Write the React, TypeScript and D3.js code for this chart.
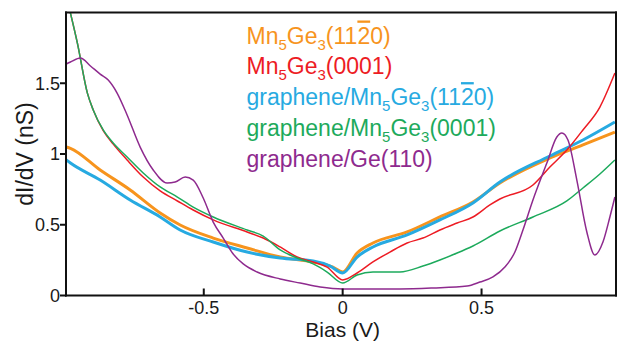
import * as d3 from 'd3';
import React from 'react';

type Pt = [number, number];

// [bias (V), dI/dV (nS)]
const mn5ge3_1120: Pt[] = [
  [-0.995, 1.05], [-0.98, 1.04], [-0.873, 0.887], [-0.765, 0.746], [-0.657, 0.583],
  [-0.585, 0.498], [-0.466, 0.406], [-0.344, 0.336], [-0.225, 0.272], [-0.106, 0.237],
  [-0.035, 0.201], [0, 0.166], [0.052, 0.3], [0.109, 0.371], [0.232, 0.449],
  [0.35, 0.555], [0.469, 0.661], [0.566, 0.795], [0.746, 0.972], [0.865, 1.064], [0.98, 1.155],
];
const mn5ge3_0001: Pt[] = [
  [-0.995, 2.115], [-0.98, 1.996], [-0.955, 1.784], [-0.919, 1.43], [-0.898, 1.311],
  [-0.862, 1.165], [-0.826, 1.07], [-0.776, 0.958], [-0.718, 0.837], [-0.657, 0.739],
  [-0.595, 0.668], [-0.538, 0.604], [-0.466, 0.534], [-0.344, 0.449], [-0.286, 0.406],
  [-0.225, 0.343], [-0.164, 0.272], [-0.106, 0.237], [-0.056, 0.201], [0, 0.11],
  [0.052, 0.159], [0.109, 0.237], [0.17, 0.307], [0.232, 0.371], [0.289, 0.406],
  [0.35, 0.463], [0.412, 0.512], [0.469, 0.555], [0.53, 0.64], [0.566, 0.682],
  [0.685, 0.781], [0.746, 0.908], [0.807, 1.028], [0.865, 1.17], [0.926, 1.332], [0.98, 1.572],
];
const gr_mn5ge3_1120: Pt[] = [
  [-0.995, 0.958], [-0.98, 0.936], [-0.873, 0.816], [-0.765, 0.675], [-0.657, 0.555],
  [-0.585, 0.463], [-0.466, 0.378], [-0.344, 0.307], [-0.225, 0.265], [-0.106, 0.244],
  [-0.045, 0.208], [0, 0.159], [0.052, 0.272], [0.109, 0.343], [0.232, 0.428],
  [0.35, 0.534], [0.469, 0.654], [0.566, 0.802], [0.746, 0.986], [0.865, 1.099], [0.98, 1.226],
];
const gr_mn5ge3_0001: Pt[] = [
  [-0.995, 2.115], [-0.98, 1.996], [-0.955, 1.784], [-0.919, 1.43], [-0.898, 1.311],
  [-0.862, 1.17], [-0.826, 1.078], [-0.776, 0.979], [-0.718, 0.866], [-0.657, 0.767],
  [-0.595, 0.696], [-0.538, 0.625], [-0.466, 0.555], [-0.344, 0.463], [-0.286, 0.42],
  [-0.225, 0.322], [-0.164, 0.265], [-0.106, 0.223], [-0.056, 0.166], [0, 0.088],
  [0.052, 0.145], [0.109, 0.166], [0.206, 0.166], [0.289, 0.208], [0.35, 0.251],
  [0.412, 0.3], [0.469, 0.35], [0.566, 0.456], [0.685, 0.555], [0.807, 0.668],
  [0.865, 0.76], [0.926, 0.859], [0.98, 0.958],
];
const gr_ge110: Pt[] = [
  [-0.995, 1.636], [-0.98, 1.65], [-0.944, 1.678], [-0.908, 1.622], [-0.873, 1.565],
  [-0.844, 1.523], [-0.812, 1.431], [-0.776, 1.276], [-0.729, 1.049], [-0.682, 0.887],
  [-0.632, 0.795], [-0.603, 0.802], [-0.567, 0.837], [-0.538, 0.816], [-0.502, 0.689],
  [-0.466, 0.519], [-0.43, 0.406], [-0.394, 0.293], [-0.358, 0.223], [-0.308, 0.166],
  [-0.225, 0.117], [-0.153, 0.088], [-0.081, 0.06], [0, 0.046], [0.206, 0.046],
  [0.325, 0.053], [0.448, 0.067], [0.494, 0.095], [0.541, 0.131], [0.584, 0.201],
  [0.62, 0.307], [0.649, 0.463], [0.685, 0.675], [0.735, 0.936], [0.771, 1.12],
  [0.789, 1.148], [0.811, 1.099], [0.843, 0.816], [0.879, 0.449], [0.908, 0.286],
  [0.937, 0.378], [0.962, 0.555], [0.98, 0.696],
];

const xTicks = [-0.5, 0, 0.5];
const yTicks = [0, 0.5, 1, 1.5];

const series = [
  { data: mn5ge3_1120, color: '#F7941D', width: 3 },
  { data: gr_mn5ge3_1120, color: '#27AAE1', width: 3 },
  { data: mn5ge3_0001, color: '#ED1C24', width: 1.5 },
  { data: gr_mn5ge3_0001, color: '#1DAA5C', width: 1.5 },
  { data: gr_ge110, color: '#8E2A8E', width: 1.5 },
];

const legend = [
  { pre: 'Mn', tail: '', bar: true, color: '#F7941D' },
  { pre: 'Mn', tail: '(0001)', bar: false, color: '#ED1C24' },
  { pre: 'graphene/Mn', tail: '', bar: true, color: '#27AAE1' },
  { pre: 'graphene/Mn', tail: '(0001)', bar: false, color: '#1DAA5C' },
  { pre: 'graphene/Ge(110)', tail: '', bar: false, color: '#8E2A8E' },
];

const width = 618;
const height = 341;
const margin = { top: 12.5, right: 2, bottom: 45.5, left: 66 };
const font = 'Arial, "Liberation Sans", Helvetica, sans-serif';
const ink = '#1a1a1a';
const lw = 2;

const x = d3.scaleLinear().domain([-0.996, 0.984]).range([margin.left, width - margin.right]);
const y = d3.scaleLinear().domain([0, 2]).range([height - margin.bottom, margin.top]);
const line = d3
  .line<Pt>()
  .x((d) => x(d[0]))
  .y((d) => y(d[1]))
  .curve(d3.curveMonotoneX);

const App: React.FC = () => {
  const x0 = margin.left;
  const x1 = width - margin.right;
  const y0 = margin.top;
  const y1 = height - margin.bottom;
  return (
    <div style={{ position: 'absolute', left: 0, top: 0, width, height, background: '#fff' }}>
      <svg width={width} height={height} fontFamily={font} style={{ display: 'block' }}>
        <defs>
          <clipPath id="plot">
            <rect x={x0} y={y0} width={x1 - x0} height={y1 - y0} />
          </clipPath>
        </defs>
        <g clipPath="url(#plot)">
          {series.map((s, i) => (
            <path
              key={i}
              d={line(s.data) || ''}
              fill="none"
              stroke={s.color}
              strokeWidth={s.width}
              strokeLinejoin="round"
            />
          ))}
        </g>
        {/* frame and ticks */}
        <g fill="#111">
          <rect x={x0 - lw / 2} y={y0 - lw / 2} width={x1 - x0 + lw} height={lw} />
          <rect x={x0 - lw / 2} y={y1 - lw / 2} width={x1 - x0 + lw} height={lw} />
          <rect x={x0 - lw / 2} y={y0 - lw / 2} width={lw} height={y1 - y0 + lw} />
          <rect x={x1 - lw / 2} y={y0 - lw / 2} width={lw} height={y1 - y0 + lw} />
          {xTicks.map((t) => (
            <rect key={t} x={x(t) - lw / 2} y={y1 - 7} width={lw} height={7} />
          ))}
          {yTicks.map((t) => (
            <rect key={t} x={x0 - 6} y={y(t) - lw / 2} width={6} height={lw} />
          ))}
        </g>
        {xTicks.map((t) => (
          <text key={t} x={x(t)} y={313.5} textAnchor="middle" fontSize={18} fill={ink}>
            {String(t)}
          </text>
        ))}
        {yTicks.map((t) => (
          <text key={t} x={60} y={y(t)} dy="0.35em" textAnchor="end" fontSize={18} fill={ink}>
            {String(t)}
          </text>
        ))}
        <text x={x(0)} y={336.5} textAnchor="middle" fontSize={21} fill={ink}>
          Bias (V)
        </text>
        <text
          transform={`translate(33,${(y0 + y1) / 2}) rotate(-90)`}
          textAnchor="middle"
          fontSize={23}
          fill={ink}
        >
          dI/dV (nS)
        </text>
        <g fontSize={23}>
          {legend.map((l, i) => (
            <text key={i} x={246.5} y={43.5 + i * 30.8} fill={l.color}>
              <tspan>{l.pre}</tspan>
              {l.pre.endsWith('Mn') && (
                <>
                  <tspan fontSize={15} dy={6}>5</tspan>
                  <tspan dy={-6}>Ge</tspan>
                  <tspan fontSize={15} dy={6}>3</tspan>
                  {l.bar ? (
                    <>
                      <tspan dy={-6}>(11</tspan>
                      <tspan style={{ textDecoration: 'overline' }}>2</tspan>
                      <tspan>0)</tspan>
                    </>
                  ) : (
                    <tspan dy={-6}>{l.tail}</tspan>
                  )}
                </>
              )}
            </text>
          ))}
        </g>
      </svg>
    </div>
  );
};

export default App;
